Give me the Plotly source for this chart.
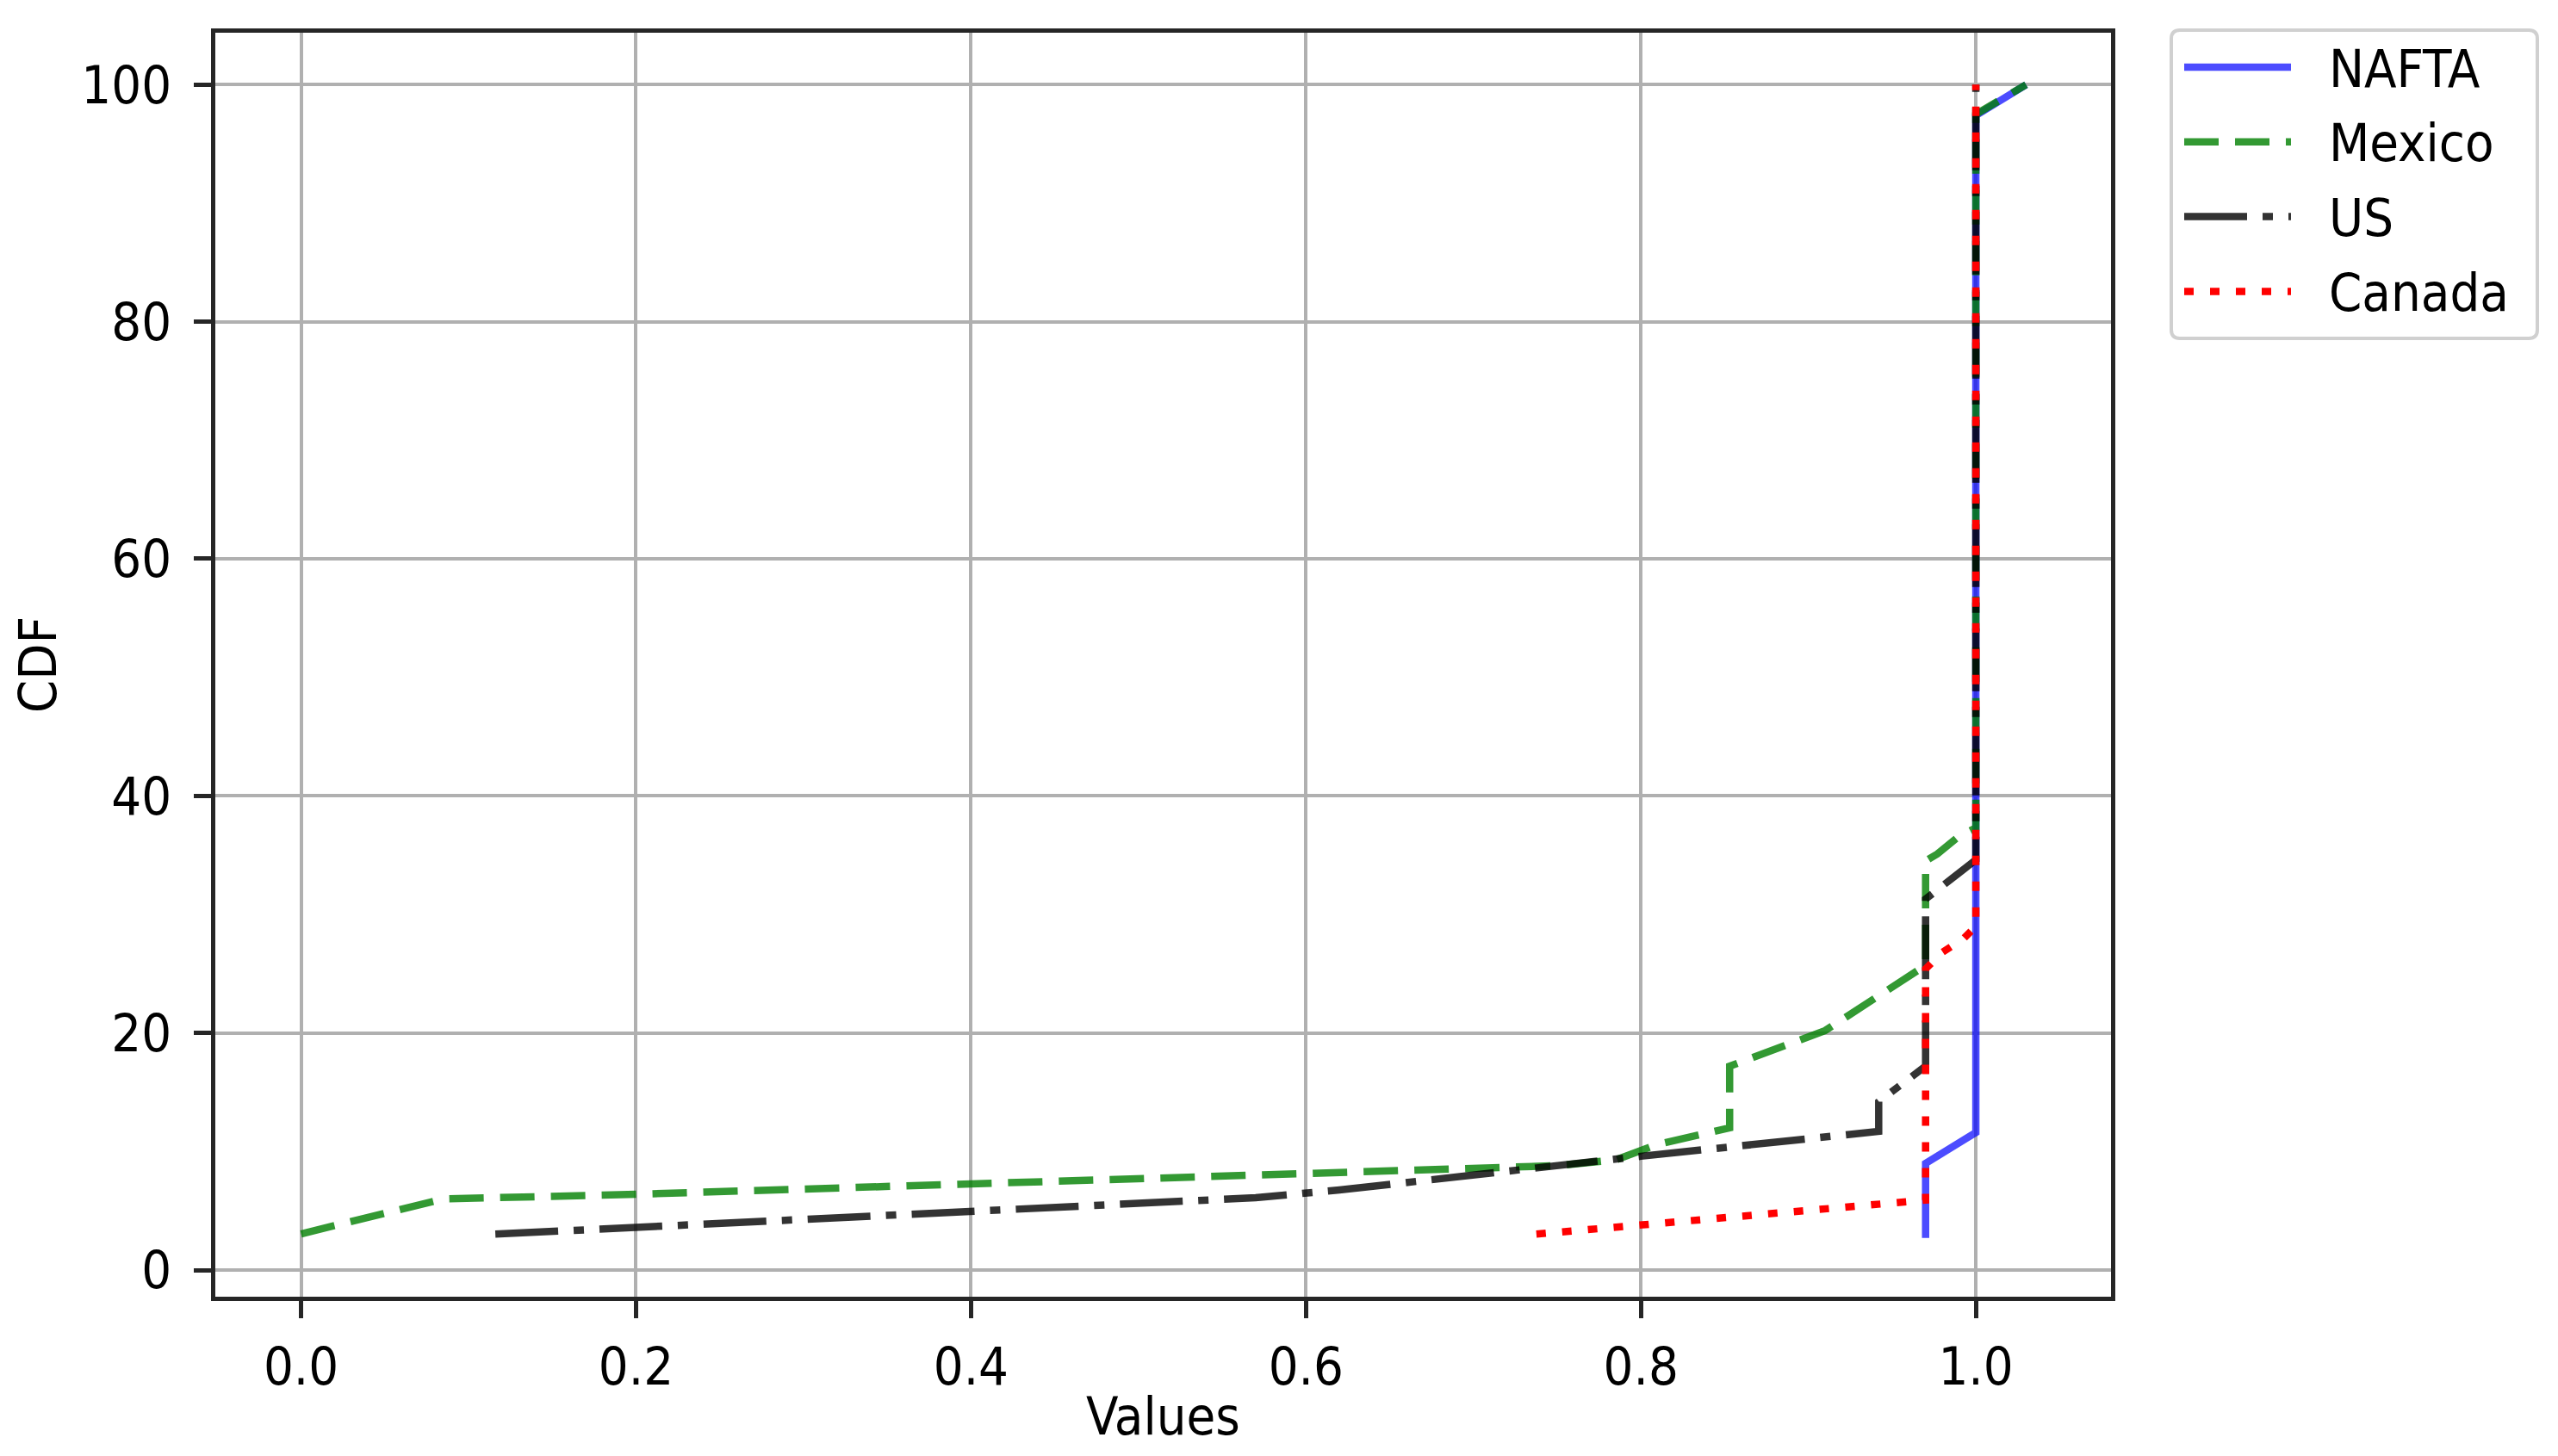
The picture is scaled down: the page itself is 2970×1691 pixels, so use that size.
import plotly.graph_objects as go

# CDF curves (x = value, y = cumulative percent)
nafta_x = [0.97, 0.97, 1.0, 1.0, 1.03]
nafta_y = [2.7, 9.0, 11.6, 97.4, 100.0]

mexico_x = [0.0, 0.085, 0.19, 0.38, 0.60, 0.66, 0.75, 0.785, 0.81, 0.853, 0.853,
            0.91, 0.97, 0.97, 0.977, 0.99, 1.0, 1.0, 1.03]
mexico_y = [3.05, 6.0, 6.35, 7.15, 8.05, 8.4, 8.8, 9.3, 10.6, 12.0, 17.2,
            20.2, 25.7, 34.5, 35.1, 36.6, 37.3, 97.5, 100.0]

us_x = [0.116, 0.38, 0.57, 0.62, 0.69, 0.75, 0.80, 0.942, 0.942, 0.97, 0.97, 1.0, 1.0]
us_y = [3.03, 4.8, 6.1, 6.75, 7.9, 8.85, 9.6, 11.7, 14.2, 17.2, 31.3, 34.6, 100.0]

canada_x = [0.7376, 0.97, 0.97, 0.98, 0.993, 1.0, 1.0]
canada_y = [3.03, 5.9, 25.4, 26.8, 28.0, 29.0, 100.0]

x_ticks = [0.0, 0.2, 0.4, 0.6, 0.8, 1.0]
y_ticks = [0, 20, 40, 60, 80, 100]

names = ['NAFTA', 'Mexico', 'US', 'Canada']
colors = ['rgba(0,0,255,0.7)', 'rgba(0,128,0,0.8)', 'rgba(0,0,0,0.8)', 'rgb(255,0,0)']
dashes = ['solid', '40px,19px', '73px,18px,12px,18px', '11px,19px']

FONT = 'DejaVu Sans Condensed, DejaVu Sans'
FS = 61
# the page body has an 8px margin, so the figure is 8px smaller and everything is shifted by 8
OFF = 8
W, H = 2970 - OFF, 1691 - OFF
L, R, T, B = 250 - OFF, 519, 38 - OFF, 185
LW = 8.5

fig = go.Figure()
for name, xs, ys, c, d in zip(names, [nafta_x, mexico_x, us_x, canada_x],
                              [nafta_y, mexico_y, us_y, canada_y], colors, dashes):
    fig.add_trace(go.Scatter(x=xs, y=ys, mode='lines', name=name,
                             line=dict(color=c, width=LW, dash=d), showlegend=False))

# legend drawn by hand so the line samples are as long as in the reference
pw, ph = W - L - R, H - T - B
def px(X):
    return (X - OFF - L) / pw
def py(Y):
    return (H - B - (Y - OFF)) / ph

bx0, bx1, by0, by1, rr = 2521, 2946, 35, 393, 10
box = (f"M{px(bx0 + rr)},{py(by0)} L{px(bx1 - rr)},{py(by0)} Q{px(bx1)},{py(by0)} {px(bx1)},{py(by0 + rr)} "
       f"L{px(bx1)},{py(by1 - rr)} Q{px(bx1)},{py(by1)} {px(bx1 - rr)},{py(by1)} "
       f"L{px(bx0 + rr)},{py(by1)} Q{px(bx0)},{py(by1)} {px(bx0)},{py(by1 - rr)} "
       f"L{px(bx0)},{py(by0 + rr)} Q{px(bx0)},{py(by0)} {px(bx0 + rr)},{py(by0)} Z")
fig.add_shape(type='path', path=box, xref='paper', yref='paper',
              line=dict(color='#d0d0d0', width=4), fillcolor='rgba(255,255,255,0.8)')

for i, (name, c, d) in enumerate(zip(names, colors, dashes)):
    yc = 78 + 86.8 * i
    fig.add_shape(type='line', xref='paper', yref='paper',
                  x0=px(2536), x1=px(2660), y0=py(yc), y1=py(yc),
                  line=dict(color=c, width=LW, dash=d))
    fig.add_annotation(x=px(2702), y=py(yc + 1), xref='paper', yref='paper', text=name,
                       showarrow=False, xanchor='left', yanchor='middle',
                       font=dict(family=FONT, size=FS, color='black'))

axis_common = dict(showgrid=True, gridcolor='#b0b0b0', gridwidth=4, zeroline=False,
                   showline=True, mirror=True, linecolor='#262626', linewidth=4.5,
                   ticks='outside', ticklen=20, tickwidth=4.5, tickcolor='#262626',
                   automargin=False,
                   tickfont=dict(family=FONT, size=FS, color='black'))

fig.update_layout(
    width=W, height=H,
    margin=dict(l=L, r=R, t=T, b=B),
    plot_bgcolor='white', paper_bgcolor='white',
    xaxis=dict(range=[-0.0512, 1.0807], tickvals=x_ticks, tickformat='.1f',
               title=dict(text='Values', font=dict(family=FONT, size=FS, color='black'), standoff=4),
               ticklabelstandoff=4, **axis_common),
    yaxis=dict(range=[-2.25, 104.38], tickvals=y_ticks,
               title=dict(text='CDF', font=dict(family=FONT, size=FS, color='black'), standoff=30),
               ticklabelstandoff=14, **axis_common),
)

fig.write_html("out.html")
